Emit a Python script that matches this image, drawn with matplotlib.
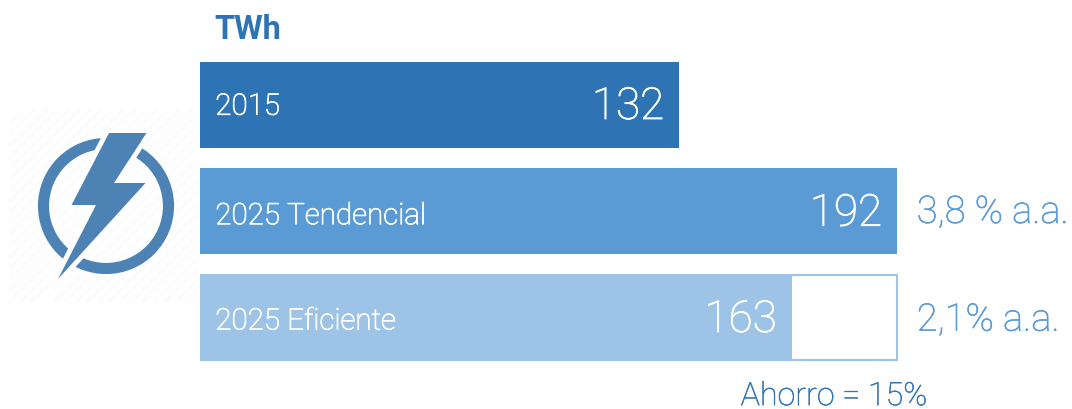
import matplotlib
matplotlib.use('Agg')
import matplotlib.pyplot as plt
import matplotlib.patheffects as pe
from matplotlib.patches import Circle, Polygon, Rectangle

plt.rcParams['font.family'] = ['Roboto', 'DejaVu Sans']
plt.rcParams['hatch.linewidth'] = 1.5

# Data
categories = ['2015', '2025 Tendencial', '2025 Eficiente']
values = [132, 192, 163]
reference_total = 192
growth_labels = ['', '3,8 % a.a.', '2,1% a.a.']
colors = ['#2E74B5', '#5B9BD5', '#9DC3E6']
unit_label = 'TWh'
saving_label = 'Ahorro = 15%'

W, H = 1072, 410
PX_PER_UNIT = 3.632
PT = 0.72  # points per pixel at dpi 100

# baseline of the texts below the centre of each bar, in px
cat_base = [9.7, 13.2, 12.5]
val_base = [14, 14.7, 15]
growth_base = [0, 12, 13.7]

fig = plt.figure(figsize=(W / 100, H / 100), dpi=100)

# bars, axes scaled so that one bar row is 106 px
ax = fig.add_axes([200 / W, 0, (W - 200) / W, 1])
ax.set_xlim(0, (W - 200) / PX_PER_UNIT)
ax.set_ylim((H - 106) / 106, -106 / 106)
ax.axis('off')

ax.barh(categories, values, height=86 / 106, color=colors)
ax.barh(2, reference_total, height=85 / 106, facecolor='none', edgecolor=colors[2], linewidth=1.5, zorder=3)
ax.barh(2, values[2], height=86 / 106, color=colors[2], zorder=4)

thicker = [pe.withStroke(linewidth=0.6, foreground='white')]

for i, (cat, val, growth) in enumerate(zip(categories, values, growth_labels)):
    ax.annotate(cat, (0, i), xytext=(11, -cat_base[i] * PT), textcoords='offset points', va='baseline', ha='left',
                color='white', fontsize=21.3, fontweight='light', zorder=5, path_effects=thicker)
    ax.annotate(str(val), (val, i), xytext=(-11, -val_base[i] * PT), textcoords='offset points', va='baseline',
                ha='right', color='white', fontsize=31.7, fontweight='light', zorder=5, path_effects=thicker)
    if growth:
        ax.annotate(growth, (reference_total, i), xytext=(14, -growth_base[i] * PT), textcoords='offset points',
                    va='baseline', ha='left', color=colors[1], fontsize=27.4, fontweight='light',
                    path_effects=[pe.withStroke(linewidth=0.4, foreground=colors[1])])

# overlay in pixel coordinates for the icon and loose labels
over = fig.add_axes([0, 0, 1, 1])
over.set_xlim(0, W)
over.set_ylim(H, 0)
over.axis('off')
over.patch.set_alpha(0)

over.text(214, 38.7, unit_label, color=colors[0], fontsize=23.5, fontweight='bold', va='baseline', ha='left')
over.text(834, 406.2, saving_label, color=colors[0], fontsize=23.2, fontweight='light', va='baseline', ha='center',
          path_effects=[pe.withStroke(linewidth=0.3, foreground=colors[0])])

# lightning icon
icon_color = '#4D82B4'
over.add_patch(Rectangle((10, 110), 187, 193, facecolor='white', edgecolor='#FAFBFC', hatch='///', linewidth=0))
over.add_patch(Circle((106, 207), 62.5, facecolor='none', edgecolor=icon_color, linewidth=8))
bolt = [(109, 134), (146.5, 134), (114, 184), (145.5, 184), (58, 280), (96, 206), (71.5, 206)]
over.add_patch(Polygon(bolt, closed=True, facecolor='white', edgecolor='white', linewidth=7, joinstyle='miter'))
over.add_patch(Polygon(bolt, closed=True, facecolor=icon_color, edgecolor='none'))

fig.savefig('out.png', dpi=100)
